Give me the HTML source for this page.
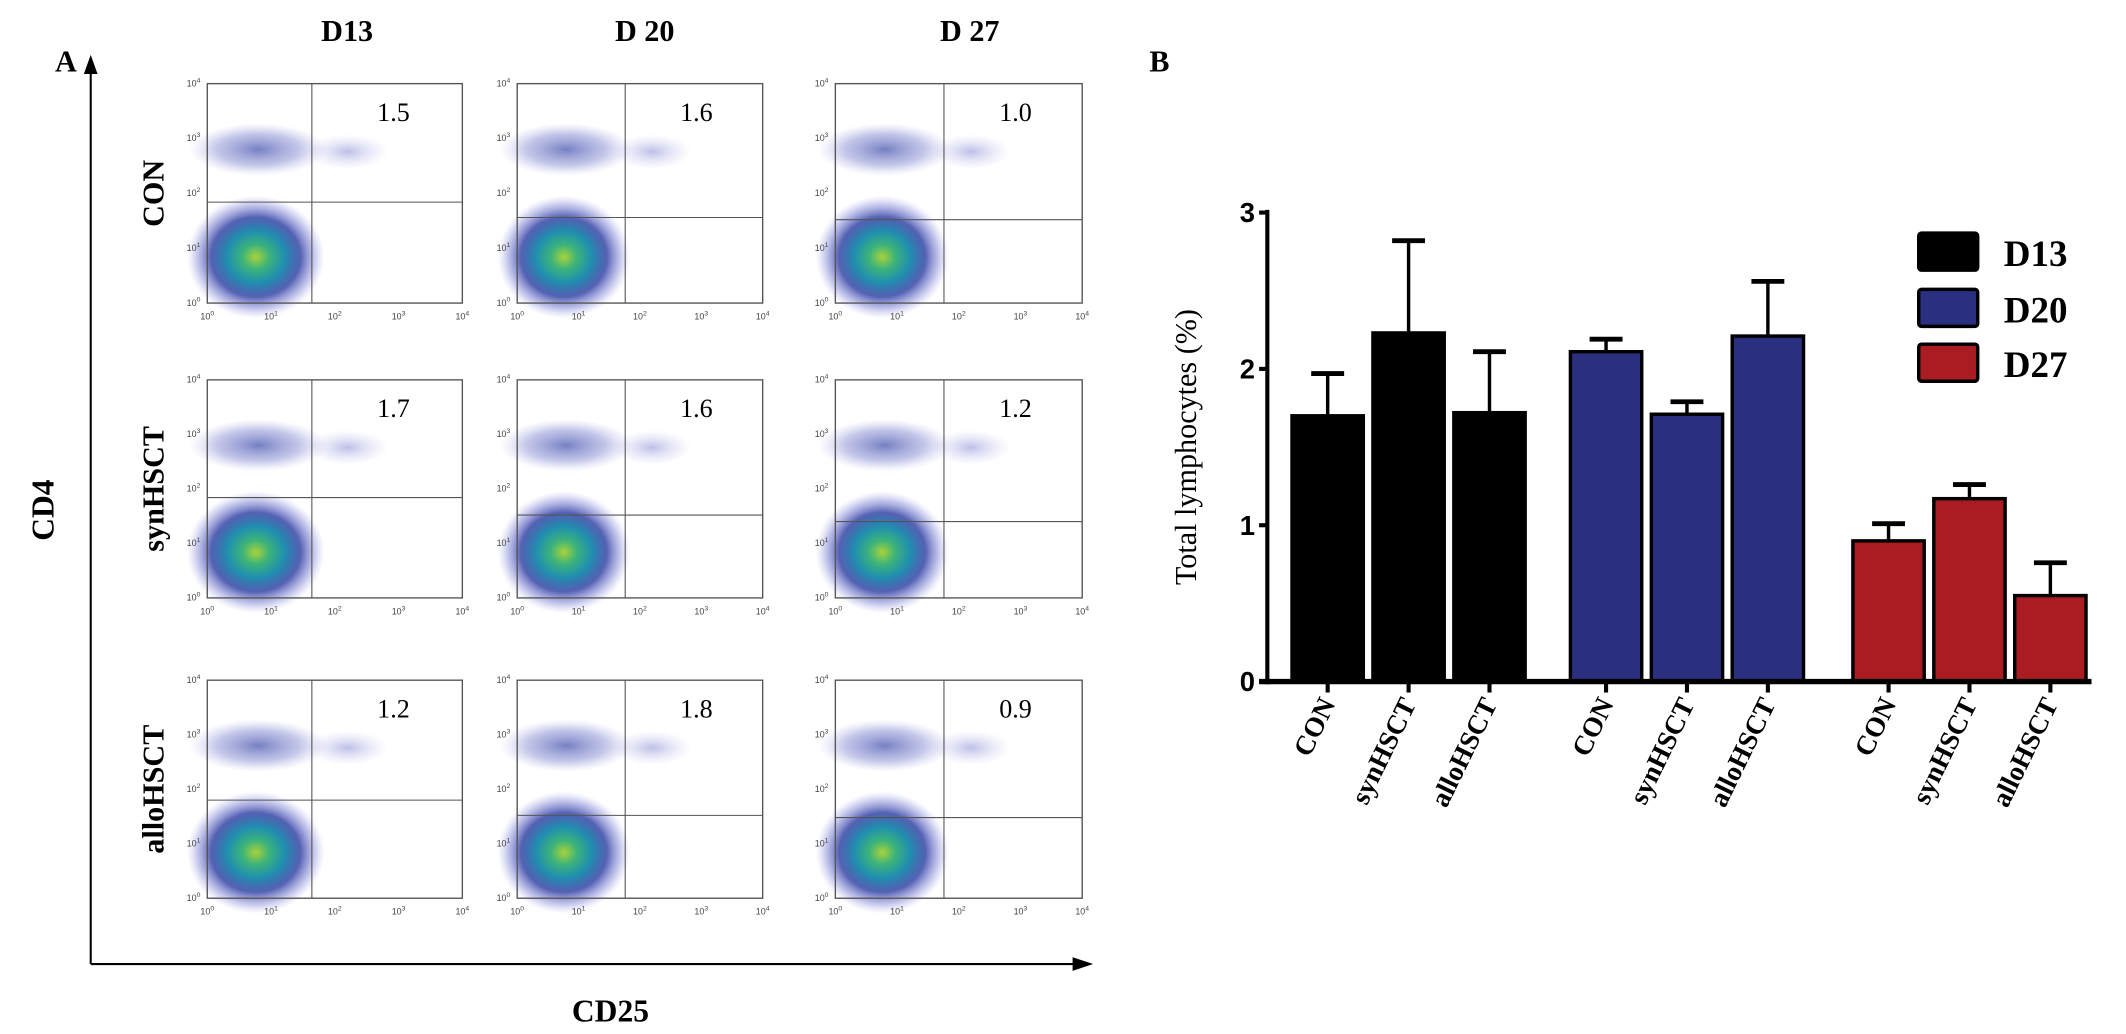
<!DOCTYPE html>
<html><head><meta charset="utf-8"><style>
html,body{margin:0;padding:0;background:#fff;}
svg{display:block;}
text{font-family:"Liberation Serif",serif;}
</style></head><body>
<svg id="fig" width="2126" height="1034" viewBox="0 0 1550 754" xmlns="http://www.w3.org/2000/svg">
<defs>
<radialGradient id="blobG" cx="50%" cy="50%" r="50%">
<stop offset="0" stop-color="#a8d23a"/><stop offset="0.2" stop-color="#3cb37a"/><stop offset="0.42" stop-color="#1f8fb0"/><stop offset="0.65" stop-color="#2a3aa0" stop-opacity="0.8"/><stop offset="0.85" stop-color="#5a60c8" stop-opacity="0.35"/><stop offset="1" stop-color="#8a90e0" stop-opacity="0"/>
</radialGradient>
<radialGradient id="bandG" cx="50%" cy="50%" r="50%">
<stop offset="0" stop-color="#3a4aa8" stop-opacity="0.7"/><stop offset="0.6" stop-color="#6a72c8" stop-opacity="0.4"/><stop offset="1" stop-color="#9aa0e0" stop-opacity="0"/>
</radialGradient>
<radialGradient id="faintG" cx="50%" cy="50%" r="50%">
<stop offset="0" stop-color="#6a72c8" stop-opacity="0.45"/><stop offset="1" stop-color="#aab0e8" stop-opacity="0"/>
</radialGradient>
</defs>
<g id="panelA"></g>
<g id="panelB"></g>
</svg>
<script>
// ---- Panel B data ----
const groups = ["D13", "D20", "D27"];
const categories = ["CON", "synHSCT", "alloHSCT"];
const valuesD13 = [1.70, 2.23, 1.72];
const valuesD20 = [2.11, 1.71, 2.21];
const valuesD27 = [0.90, 1.17, 0.55];
const errTopD13 = [1.97, 2.82, 2.11];
const errTopD20 = [2.19, 1.79, 2.56];
const errTopD27 = [1.01, 1.26, 0.76];
const yTicks = [0, 1, 2, 3];
// ---- Panel A data (quadrant percentages) ----
const dayLabels = ["D13", "D 20", "D 27"];
const rowLabels = ["CON", "synHSCT", "alloHSCT"];
const quadD13 = ["1.5", "1.7", "1.2"];
const quadD20 = ["1.6", "1.6", "1.8"];
const quadD27 = ["1.0", "1.2", "0.9"];
const logTicks = ["0", "1", "2", "3", "4"];

const NS = "http://www.w3.org/2000/svg";
function mk(tag, attrs, parent, txt) {
  const e = document.createElementNS(NS, tag);
  for (const k in attrs) e.setAttribute(k, attrs[k]);
  if (txt !== undefined) e.textContent = txt;
  parent.appendChild(e);
  return e;
}

// ========== Panel B ==========
const B = document.getElementById('panelB');
const axX = 924, y0 = 497, unit = 114;
const yS = v => y0 - v * unit;
const colors = ["#000000", "#2b2f7f", "#a81c22"];
const vals = [valuesD13, valuesD20, valuesD27];
const errs = [errTopD13, errTopD20, errTopD27];
const groupStart = [942, 1145, 1351];
const barW = 52, barGap = 7;
let t;
t = mk('text', {x: 838, y: 52, 'font-size': 22, 'font-weight': 'bold'}, B, 'B');
 
let ax = mk('line', {x1: axX, y1: yS(3) - 2, x2: axX, y2: y0 + 2, stroke: '#000', 'stroke-width': 3}, B);
 
yTicks.forEach(v => {
  const tk = mk('line', {x1: axX - 6, y1: yS(v), x2: axX, y2: yS(v), stroke: '#000', 'stroke-width': 3}, B);
   
  const tl = mk('text', {x: axX - 9, y: yS(v) + 7, 'font-size': 20, 'font-weight': 'bold', 'text-anchor': 'end', style: 'font-family:"Liberation Sans",sans-serif'}, B, String(v));
   
});
t = mk('text', {x: 0, y: 0, 'font-size': 22, 'text-anchor': 'middle', transform: `translate(872 ${yS(1.5)}) rotate(-90)`}, B, 'Total lymphocytes (%)');
 
groups.forEach((g, gi) => {
  categories.forEach((c, ci) => {
    const x = groupStart[gi] + ci * (barW + barGap);
    const v = vals[gi][ci], e = errs[gi][ci];
    const cx = x + barW / 2;
    const el = mk('line', {x1: cx, y1: yS(e), x2: cx, y2: yS(v), stroke: '#000', 'stroke-width': 2.5}, B);
     
    const cap = mk('line', {x1: cx - 12, y1: yS(e), x2: cx + 12, y2: yS(e), stroke: '#000', 'stroke-width': 3.5}, B);
     
    const r = mk('rect', {x: x, y: yS(v), width: barW, height: y0 - yS(v), fill: colors[gi], stroke: '#000', 'stroke-width': 2.5}, B);
     
    const tk = mk('line', {x1: cx, y1: y0, x2: cx, y2: y0 + 8, stroke: '#000', 'stroke-width': 3}, B);
     
    const lb = mk('text', {x: 0, y: 0, 'font-size': 20, 'font-weight': 'bold', 'text-anchor': 'end', transform: `translate(${cx + 6} ${y0 + 16}) rotate(-64)`}, B, c);
     
  });
});
ax = mk('line', {x1: axX - 6, y1: y0, x2: 1525, y2: y0, stroke: '#000', 'stroke-width': 4}, B);
 
const legY = [170, 211, 251];
groups.forEach((g, gi) => {
  const lg = mk('g', {}, B);
   
  mk('rect', {x: 1399, y: legY[gi], width: 43, height: 27, fill: colors[gi], stroke: '#000', 'stroke-width': 2.5, rx: 2}, lg);
  mk('text', {x: 1461, y: legY[gi] + 24, 'font-size': 27, 'font-weight': 'bold'}, lg, g);
});

// ========== Panel A ==========
const A = document.getElementById('panelA');
t = mk('text', {x: 40, y: 52, 'font-size': 22, 'font-weight': 'bold'}, A, 'A');
 
let ar = mk('path', {d: 'M66 703 L66 50', stroke: '#000', 'stroke-width': 1.5, fill: 'none'}, A);
 
mk('path', {d: 'M61 54 L66 40 L71 54 Z', fill: '#000'}, A);
ar = mk('path', {d: 'M66 703 L785 703', stroke: '#000', 'stroke-width': 1.5, fill: 'none'}, A);
 
mk('path', {d: 'M782 698 L797 703 L782 708 Z', fill: '#000'}, A);
t = mk('text', {x: 0, y: 0, 'font-size': 23, 'font-weight': 'bold', 'text-anchor': 'middle', transform: 'translate(39 372) rotate(-90)'}, A, 'CD4');
 
t = mk('text', {x: 445, y: 745, 'font-size': 23, 'font-weight': 'bold', 'text-anchor': 'middle'}, A, 'CD25');
 

const colX = [[151, 337], [377, 556], [609, 789]];
const rowY = [[61, 221], [277, 436], [496, 655]];
const gateV = [[0.41, 0.44, 0.44], [0.41, 0.44, 0.44], [0.41, 0.44, 0.44]];
const gateH = [[0.54, 0.61, 0.62], [0.54, 0.62, 0.65], [0.55, 0.62, 0.63]];
const quads = [quadD13, quadD20, quadD27];
const dayX = [253, 470, 707];
dayLabels.forEach((d, i) => {
  const e = mk('text', {x: dayX[i], y: 30, 'font-size': 22, 'font-weight': 'bold', 'text-anchor': 'middle'}, A, d);
   
});
rowLabels.forEach((r, i) => {
  const cy = (rowY[i][0] + rowY[i][1]) / 2;
  const e = mk('text', {x: 0, y: 0, 'font-size': 22, 'font-weight': 'bold', 'text-anchor': 'middle', transform: `translate(119 ${cy}) rotate(-90)`}, A, r);
   
});
for (let ri = 0; ri < 3; ri++) {
  for (let ci = 0; ci < 3; ci++) {
    const [x1, x2] = colX[ci], [y1, y2] = rowY[ri];
    const w = x2 - x1, h = y2 - y1;
    const g = mk('g', {}, A);
     
    const vx = x1 + w * gateV[ri][ci], hy = y1 + h * gateH[ri][ci];
    mk('ellipse', {cx: x1 + w * 0.2, cy: y1 + h * 0.3, rx: w * 0.27, ry: h * 0.12, fill: 'url(#bandG)'}, g);
    mk('ellipse', {cx: x1 + w * 0.55, cy: y1 + h * 0.31, rx: w * 0.16, ry: h * 0.08, fill: 'url(#faintG)'}, g);
    mk('ellipse', {cx: x1 + w * 0.19, cy: y1 + h * 0.79, rx: w * 0.27, ry: h * 0.28, fill: 'url(#blobG)'}, g);
    mk('rect', {x: x1, y: y1, width: w, height: h, fill: 'none', stroke: '#555', 'stroke-width': 1}, g);
    mk('line', {x1: vx, y1: y1, x2: vx, y2: y2, stroke: '#555', 'stroke-width': 0.8}, g);
    mk('line', {x1: x1, y1: hy, x2: x2, y2: hy, stroke: '#555', 'stroke-width': 0.8}, g);
    const q = mk('text', {x: x1 + w * 0.73, y: y1 + h * 0.17, 'font-size': 19, 'text-anchor': 'middle'}, g, quads[ci][ri]);
     
    logTicks.forEach((p, k) => {
      const tx = x1 + w * k / 4, ty = y2 - h * k / 4;
      const xl = mk('text', {x: tx, y: y2 + 12, 'font-size': 6.5, fill: '#444', 'text-anchor': 'middle', style: 'font-family:"Liberation Sans",sans-serif'}, g);
       
      xl.innerHTML = '10<tspan dy="-3" font-size="5">' + p + '</tspan>';
      const yl = mk('text', {x: x1 - 5, y: ty + 2, 'font-size': 6.5, fill: '#444', 'text-anchor': 'end', style: 'font-family:"Liberation Sans",sans-serif'}, g);
       
      yl.innerHTML = '10<tspan dy="-3" font-size="5">' + p + '</tspan>';
    });
  }
}
</script>
</body></html>
